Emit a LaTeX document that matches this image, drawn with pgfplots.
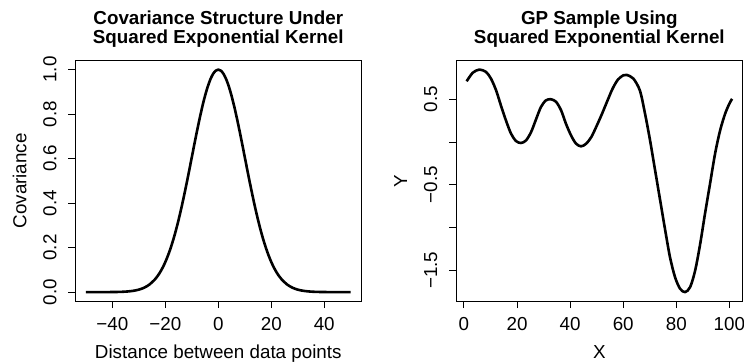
\documentclass[border=0pt]{standalone}
\usepackage{fontspec}
\setmainfont{Liberation Sans}
\usepackage{pgfplots}
\pgfplotsset{compat=1.18}
\begin{document}
\fontsize{18.8}{22}\selectfont
\begin{tikzpicture}
\path[use as bounding box] (0,0) rectangle (744pt,362pt);
\pgfplotsset{rstyle/.style={
  scale only axis, height=240.3pt, anchor=south west,
  axis line style={line width=1pt, black},
  tick align=outside, tick pos=left, major tick length=7pt,
  every tick/.style={black, line width=1pt},
  xticklabel style={anchor=base, yshift=-22pt},
  yticklabel style={xshift=-12pt, rotate=90, anchor=base},
  xlabel style={at={(axis description cs:0.5,0)}, anchor=base, yshift=-57.3pt},
  ylabel style={at={([xshift=-49pt]axis description cs:0,0.5)}, anchor=base},
  title style={at={(axis description cs:0.5,1)}, anchor=base, yshift=11.4pt, align=center, font=\bfseries\fontsize{18.8}{18.3}\selectfont},
  clip=false,
}}
% Left panel
\begin{axis}[rstyle, at={(75.3pt,61pt)}, width=286pt,
  xmin=-54, xmax=54, ymin=-0.04, ymax=1.04,
  xtick={-40,-20,0,20,40}, xticklabels={−40,−20,0,20,40},
  ytick={0,0.2,0.4,0.6,0.8,1}, yticklabels={0.0,0.2,0.4,0.6,0.8,1.0},
  xlabel={Distance between data points}, ylabel={Covariance},
  title={Covariance Structure Under\\Squared Exponential Kernel}]
\addplot[black, line width=2.6pt, smooth, line join=round] coordinates {
(-50,0.0000) (-45,0.0000) (-40,0.0003) (-38,0.0007) (-36,0.0015) (-34,0.0031)
(-32,0.0060) (-30,0.0111) (-28,0.0198) (-26,0.0340) (-24,0.0561) (-23,0.0710)
(-22,0.0889) (-21,0.1103) (-20,0.1353) (-19,0.1645) (-18,0.1979) (-17,0.2357)
(-16,0.2780) (-15,0.3247) (-14,0.3753) (-13,0.4296) (-12,0.4868) (-11,0.5461)
(-10,0.6065) (-9,0.6670) (-8,0.7261) (-7,0.7827) (-6,0.8353) (-5,0.8825)
(-4,0.9231) (-3,0.9560) (-2,0.9802) (-1,0.9950) (0,1.0000)
(1,0.9950) (2,0.9802) (3,0.9560) (4,0.9231) (5,0.8825) (6,0.8353)
(7,0.7827) (8,0.7261) (9,0.6670) (10,0.6065) (11,0.5461) (12,0.4868)
(13,0.4296) (14,0.3753) (15,0.3247) (16,0.2780) (17,0.2357) (18,0.1979)
(19,0.1645) (20,0.1353) (21,0.1103) (22,0.0889) (23,0.0710) (24,0.0561)
(26,0.0340) (28,0.0198) (30,0.0111) (32,0.0060) (34,0.0031) (36,0.0015)
(38,0.0007) (40,0.0003) (45,0.0000) (50,0.0000)
};
\end{axis}
% Right panel
\begin{axis}[rstyle, at={(456pt,61pt)}, width=286.7pt,
  xmin=-3, xmax=105, ymin=-1.858, ymax=0.951,
  xtick={0,20,40,60,80,100}, xticklabels={0,20,40,60,80,100},
  ytick={-1.5,-1,-0.5,0,0.5}, yticklabels={−1.5,,−0.5,,0.5},
  xlabel={X}, ylabel={Y},
  title={GP Sample Using\\Squared Exponential Kernel}]
\addplot[black, line width=2.6pt, smooth, line join=round] coordinates {
(1.0,0.71) (3.3,0.81) (5.8,0.847) (8.3,0.82) (10.2,0.74) (12.1,0.605)
(13.9,0.43) (15.8,0.254) (17.7,0.10) (19.6,0.012) (21.5,-0.011) (23.4,0.02)
(25.3,0.118) (27.1,0.262) (29.0,0.41) (30.9,0.488) (32.8,0.50) (34.7,0.47)
(36.6,0.37) (38.4,0.216) (40.3,0.08) (42.2,-0.018) (44.1,-0.05) (46.0,-0.02)
(48.0,0.06) (50.0,0.19) (52.0,0.33) (54.0,0.48) (56.0,0.625) (58.0,0.73)
(60.0,0.78) (61.3,0.785) (63.8,0.742) (66.3,0.60) (68.2,0.333) (70.1,0.02) (72.0,-0.33)
(73.9,-0.68) (75.8,-1.03) (77.6,-1.344) (79.5,-1.578) (81.4,-1.714) (83.3,-1.754)
(85.2,-1.695) (87.1,-1.5) (89.0,-1.188) (90.8,-0.837) (92.7,-0.486) (94.6,-0.135)
(96.5,0.137) (98.4,0.333) (100.0,0.45) (101.0,0.505)
};
\end{axis}
\end{tikzpicture}
\end{document}
